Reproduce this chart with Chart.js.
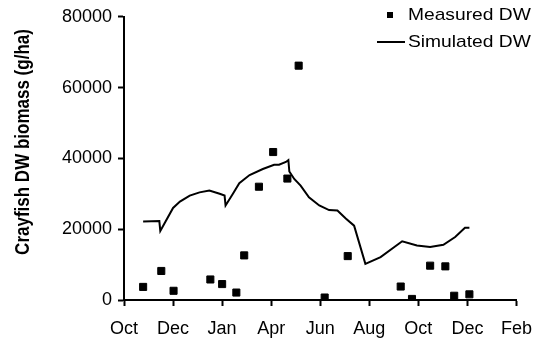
<!DOCTYPE html>
<html>
<head>
<meta charset="utf-8">
<script src="https://cdn.jsdelivr.net/npm/chart.js@4.4.1/dist/chart.umd.min.js"></script>
<style>
  html, body { margin: 0; padding: 0; background: #fff; }
  #wrap { width: 544px; height: 343px; }
</style>
</head>
<body>
<div id="wrap"><canvas id="crayfishChart" width="544" height="343"></canvas></div>
<script>
// tick labels along the bottom (evenly spaced, as printed)
const monthLabels = ['Oct', 'Dec', 'Jan', 'Apr', 'Jun', 'Aug', 'Oct', 'Dec', 'Feb'];

// measured DW, x in tick-index units
const measuredX = [0.39, 0.76, 1.01, 1.76, 2.0, 2.29, 2.45, 2.75, 3.04, 3.33, 3.56, 4.09, 4.56, 5.64, 5.87, 6.24, 6.55, 6.73, 7.04];
const measuredY = [3700, 8200, 2600, 5800, 4500, 2100, 12600, 32000, 41800, 34300, 66200, 700, 12400, 3800, 300, 9700, 9500, 1200, 1600];

// simulated DW
const simX = [0.39, 0.72, 0.74, 1.0, 1.14, 1.34, 1.54, 1.74, 1.95, 2.05, 2.07, 2.22, 2.35, 2.56, 2.83, 3.06, 3.16, 3.3, 3.35, 3.37, 3.47, 3.6, 3.77, 3.98, 4.18, 4.35, 4.52, 4.69, 4.92, 5.23, 5.67, 5.97, 6.24, 6.51, 6.75, 6.95, 7.04];
const simY = [22200, 22300, 19500, 26000, 27800, 29500, 30400, 30900, 30000, 29500, 26700, 30000, 33000, 35300, 37000, 38200, 38200, 39000, 39500, 36300, 34200, 32300, 29000, 26700, 25400, 25300, 23000, 21000, 10200, 12100, 16600, 15400, 15000, 15600, 17800, 20400, 20400];

const yTitle = 'Crayfish DW biomass (g/ha)';
const FONT = "'Liberation Sans', Arial, Helvetica, sans-serif";

const toPoints = (xs, ys) => xs.map((x, i) => ({ x, y: ys[i] }));

// y title drawn a bit above centre, like the original (glyphs a little wide)
const yTitlePlugin = {
    id: 'yTitle',
    afterDraw(chart) {
        const ctx = chart.ctx;
        ctx.save();
        ctx.translate(24, 142);
        ctx.rotate(-Math.PI / 2);
        ctx.scale(1, 1.15);
        ctx.font = 'bold 17px ' + FONT;
        ctx.fillStyle = '#000';
        ctx.textAlign = 'center';
        ctx.textBaseline = 'middle';
        ctx.fillText(yTitle, 0, 0);
        ctx.restore();
    }
};

// two-row legend in the top right corner
const legendPlugin = {
    id: 'cornerLegend',
    afterDraw(chart) {
        const ctx = chart.ctx;
        ctx.save();
        ctx.fillStyle = '#000';
        chart.data.datasets.forEach((ds, i) => {
            const y = 15 + i * 27;
            if (ds.showLine) {
                ctx.strokeStyle = ds.borderColor;
                ctx.lineWidth = ds.borderWidth;
                ctx.beginPath();
                ctx.moveTo(377, y);
                ctx.lineTo(405, y);
                ctx.stroke();
            } else {
                ctx.fillRect(387, y - 3, 6, 6);
            }
            ctx.save();
            ctx.translate(408, y);
            ctx.scale(1.13, 1);
            ctx.font = '17px ' + FONT;
            ctx.textAlign = 'left';
            ctx.textBaseline = 'middle';
            ctx.fillText(ds.label, 0, 0);
            ctx.restore();
        });
        ctx.restore();
    }
};

new Chart(document.getElementById('crayfishChart'), {
    type: 'scatter',
    data: {
        datasets: [
            {
                label: 'Measured DW',
                data: toPoints(measuredX, measuredY),
                showLine: false,
                pointStyle: 'rect',
                pointRadius: 5,
                pointBorderWidth: 1,
                backgroundColor: '#000',
                borderColor: '#000'
            },
            {
                label: 'Simulated DW',
                data: toPoints(simX, simY),
                showLine: true,
                borderColor: '#000',
                borderWidth: 2,
                pointRadius: 0,
                tension: 0,
                fill: false
            }
        ]
    },
    options: {
        responsive: false,
        animation: false,
        layout: { padding: { top: 15, right: 26, left: 0, bottom: 0 } },
        plugins: {
            legend: { display: false },
            tooltip: { enabled: false }
        },
        scales: {
            x: {
                type: 'linear',
                min: 0,
                max: 8,
                ticks: {
                    stepSize: 1,
                    autoSkip: false,
                    maxRotation: 0,
                    padding: 12,
                    color: '#000',
                    font: { family: FONT, size: 18 },
                    callback: (v) => monthLabels[v] ?? ''
                },
                grid: { drawOnChartArea: false, tickLength: 6, tickWidth: 2, tickColor: '#000' },
                border: { color: '#000', width: 2 },
                afterFit: (scale) => { scale.height = 43; }
            },
            y: {
                min: 0,
                max: 80000,
                ticks: {
                    stepSize: 20000,
                    padding: 6,
                    color: '#000',
                    font: { family: FONT, size: 18 },
                    callback: (v) => String(v)
                },
                grid: { drawOnChartArea: false, tickLength: 6, tickWidth: 2, tickColor: '#000' },
                border: { color: '#000', width: 2 },
                afterFit: (scale) => { scale.width = 124; }
            }
        }
    },
    plugins: [yTitlePlugin, legendPlugin]
});
</script>
</body>
</html>
